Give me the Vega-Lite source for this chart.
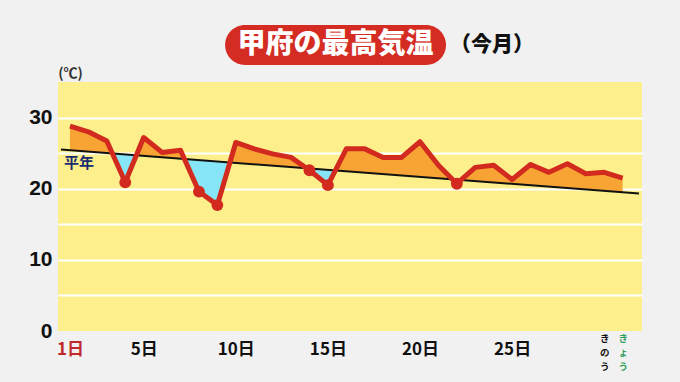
{
  "$schema": "https://vega.github.io/schema/vega-lite/v6.json",
  "width": 584,
  "height": 249,
  "autosize": {"type": "none"},
  "padding": {"left": 58, "top": 82, "right": 38, "bottom": 51},
  "background": "#f1f1f1",
  "view": {"fill": "#fdf08c", "stroke": null},
  "datasets": {
    "daily": [
      {"day": 1, "temp": 28.8, "normal": 25.4},
      {"day": 2, "temp": 28.0, "normal": 25.2},
      {"day": 3, "temp": 26.7, "normal": 25.01},
      {"day": 4, "temp": 20.9, "normal": 24.81},
      {"day": 5, "temp": 27.2, "normal": 24.61},
      {"day": 6, "temp": 25.1, "normal": 24.42},
      {"day": 7, "temp": 25.4, "normal": 24.22},
      {"day": 8, "temp": 19.6, "normal": 24.02},
      {"day": 9, "temp": 17.7, "normal": 23.83},
      {"day": 10, "temp": 26.5, "normal": 23.63},
      {"day": 11, "temp": 25.6, "normal": 23.43},
      {"day": 12, "temp": 24.9, "normal": 23.24},
      {"day": 13, "temp": 24.4, "normal": 23.04},
      {"day": 14, "temp": 22.6, "normal": 22.84},
      {"day": 15, "temp": 20.5, "normal": 22.65},
      {"day": 16, "temp": 25.6, "normal": 22.45},
      {"day": 17, "temp": 25.6, "normal": 22.25},
      {"day": 18, "temp": 24.4, "normal": 22.06},
      {"day": 19, "temp": 24.4, "normal": 21.86},
      {"day": 20, "temp": 26.6, "normal": 21.66},
      {"day": 21, "temp": 23.3, "normal": 21.47},
      {"day": 22, "temp": 20.7, "normal": 21.27},
      {"day": 23, "temp": 23.0, "normal": 21.07},
      {"day": 24, "temp": 23.3, "normal": 20.88},
      {"day": 25, "temp": 21.3, "normal": 20.68},
      {"day": 26, "temp": 23.4, "normal": 20.48},
      {"day": 27, "temp": 22.3, "normal": 20.29},
      {"day": 28, "temp": 23.5, "normal": 20.09},
      {"day": 29, "temp": 22.1, "normal": 19.89},
      {"day": 30, "temp": 22.3, "normal": 19.7},
      {"day": 31, "temp": 21.5, "normal": 19.5}
    ],
    "normalLine": [
      {"day": 0.51, "normal": 25.5},
      {"day": 31.89, "normal": 19.33}
    ]
  },
  "layer": [
    {
      "data": {"name": "daily"},
      "mark": {
        "type": "area",
        "opacity": 1,
        "interpolate": "linear",
        "fill": {
          "gradient": "linear",
          "x1": 0.7658, "y1": 0.0721, "x2": 0.2342, "y2": 1.0721,
          "stops": [
            {"offset": 0, "color": "#f8a434"},
            {"offset": 0.5, "color": "#f8a434"},
            {"offset": 0.5, "color": "#86e6f8"},
            {"offset": 1, "color": "#86e6f8"}
          ]
        }
      },
      "encoding": {
        "x": {
          "field": "day", "type": "quantitative",
          "scale": {"domain": [0.35, 32.05], "nice": false, "zero": false},
          "axis": {
            "values": [1, 5, 10, 15, 20, 25, 30, 31],
            "title": null,
            "grid": false,
            "ticks": false,
            "domain": false,
            "labelExpr": "datum.value == 30 ? ['き','の','う'] : datum.value == 31 ? ['き','ょ','う'] : datum.value + '日'",
            "labelFont": "Noto Sans CJK JP",
            "labelFontWeight": "bold",
            "labelFontSize": {"condition": {"test": "datum.value >= 30", "value": 9.5}, "value": 17},
            "labelColor": {"condition": [{"test": "datum.value == 1", "value": "#c0282d"}, {"test": "datum.value == 31", "value": "#2e9e5b"}], "value": "#111111"},
            "labelPadding": {"condition": {"test": "datum.value >= 30", "value": 2}, "value": 10},
            "labelLineHeight": 14,
            "labelAlign": "center",
            "labelBaseline": "top",
            "labelOverlap": false,
            "labelBound": false,
            "labelFlush": false
          }
        },
        "y": {
          "field": "temp", "type": "quantitative",
          "scale": {"domain": [0, 35], "nice": false},
          "axis": {
            "values": [0, 5, 10, 15, 20, 25, 30],
            "title": "(℃)",
            "titleAngle": 0,
            "titleX": 12,
            "titleY": -9,
            "titleAlign": "center",
            "titleBaseline": "middle",
            "titleFont": "Noto Sans CJK JP",
            "titleFontSize": 14,
            "titleFontWeight": "bold",
            "titleColor": "#333333",
            "labelExpr": "datum.value % 10 == 0 ? datum.label : ''",
            "labelFont": "Liberation Sans",
            "labelFontSize": 21,
            "labelFontWeight": "bold",
            "labelColor": "#111111",
            "labelPadding": 6,
            "labelOverlap": false,
            "ticks": false,
            "domain": false,
            "grid": true,
            "gridColor": {"condition": {"test": "datum.value == 0", "value": "transparent"}, "value": "#ffffff"},
            "gridWidth": 2
          }
        },
        "y2": {"field": "normal"}
      }
    },
    {
      "data": {"name": "normalLine"},
      "mark": {"type": "line", "color": "#111111", "strokeWidth": 2},
      "encoding": {
        "x": {"field": "day", "type": "quantitative"},
        "y": {"field": "normal", "type": "quantitative"}
      }
    },
    {
      "data": {"name": "daily"},
      "mark": {"type": "line", "color": "#d22a1f", "strokeWidth": 5, "strokeJoin": "round"},
      "encoding": {
        "x": {"field": "day", "type": "quantitative"},
        "y": {"field": "temp", "type": "quantitative"}
      }
    },
    {
      "data": {"name": "daily"},
      "transform": [{"filter": "datum.temp < datum.normal"}],
      "mark": {"type": "circle", "color": "#d22a1f", "size": 140, "opacity": 1},
      "encoding": {
        "x": {"field": "day", "type": "quantitative"},
        "y": {"field": "temp", "type": "quantitative"}
      }
    },
    {
      "data": {"values": [{}]},
      "mark": {"type": "text", "text": "平年", "font": "Noto Sans CJK JP", "fontSize": 15, "fontWeight": "bold", "color": "#1b2a6e", "align": "center", "baseline": "middle"},
      "encoding": {
        "x": {"datum": 1.49, "type": "quantitative"},
        "y": {"datum": 23.57, "type": "quantitative"}
      }
    },
    {
      "data": {"values": [{}]},
      "mark": {"type": "rect", "color": "#d42b22", "cornerRadius": 20},
      "encoding": {
        "x": {"datum": 9.42, "type": "quantitative"},
        "x2": {"datum": 21.41},
        "y": {"datum": 43.0, "type": "quantitative"},
        "y2": {"datum": 37.39}
      }
    },
    {
      "data": {"values": [{}]},
      "mark": {"type": "text", "text": "甲府の最高気温", "font": "Noto Sans CJK JP", "fontSize": 28, "fontWeight": 900, "color": "#ffffff", "align": "center", "baseline": "middle"},
      "encoding": {
        "x": {"datum": 15.41, "type": "quantitative"},
        "y": {"datum": 40.2, "type": "quantitative"}
      }
    },
    {
      "data": {"values": [{}]},
      "mark": {"type": "text", "text": "（今月）", "font": "Noto Sans CJK JP", "fontSize": 21, "fontWeight": 900, "color": "#111111", "align": "center", "baseline": "middle"},
      "encoding": {
        "x": {"datum": 23.91, "type": "quantitative"},
        "y": {"datum": 40.2, "type": "quantitative"}
      }
    }
  ]
}
